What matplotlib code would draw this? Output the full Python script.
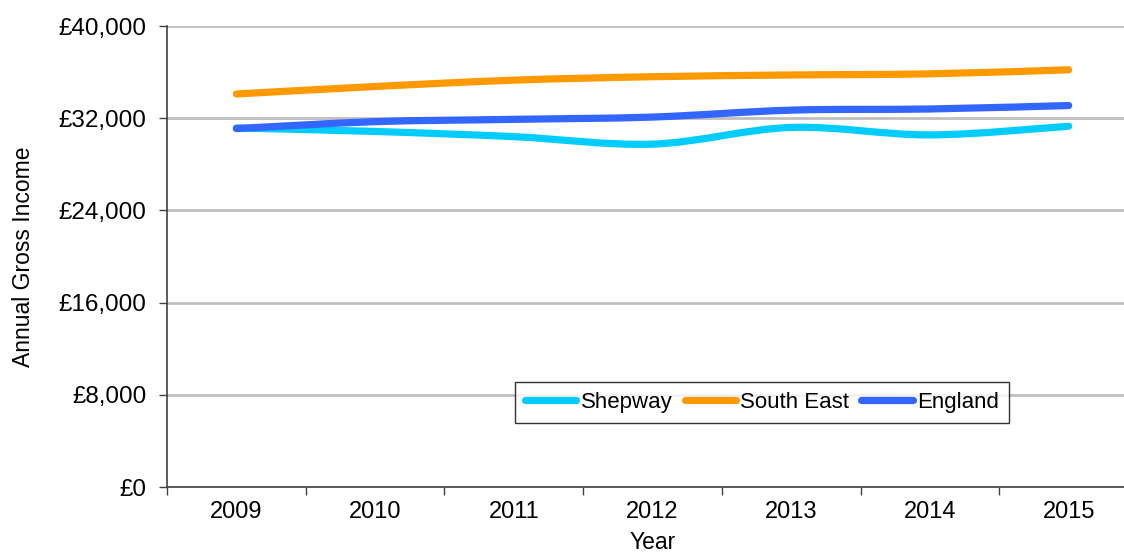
import numpy as np
import matplotlib.pyplot as plt
from matplotlib.path import Path
from matplotlib.patches import PathPatch
from matplotlib.lines import Line2D
from matplotlib.ticker import FixedLocator, FuncFormatter

plt.rcParams['font.family'] = ['Liberation Sans', 'DejaVu Sans']

years = [2009, 2010, 2011, 2012, 2013, 2014, 2015]
shepway = [31150, 30850, 30400, 29750, 31200, 30550, 31300]
south_east = [34100, 34750, 35300, 35600, 35750, 35850, 36200]
england = [31100, 31700, 31900, 32100, 32700, 32800, 33100]

series = [
    ('Shepway', shepway, '#00CCFF'),
    ('South East', south_east, '#FF9900'),
    ('England', england, '#3366FF'),
]


def smooth_path(xs, ys, k=1 / 6):
    """Excel-style smoothed line: Catmull-Rom control points as cubic Beziers."""
    pts = np.column_stack([xs, ys]).astype(float)
    n = len(pts)
    verts = [pts[0]]
    codes = [Path.MOVETO]
    for i in range(n - 1):
        p0 = pts[max(i - 1, 0)]
        p1 = pts[i]
        p2 = pts[i + 1]
        p3 = pts[min(i + 2, n - 1)]
        c1 = p1 + (p2 - p0) * k
        c2 = p2 - (p3 - p1) * k
        verts += [c1, c2, p2]
        codes += [Path.CURVE4] * 3
    return Path(verts, codes)


fig = plt.figure(figsize=(11.24, 5.54), dpi=100)
ax = fig.add_axes([167 / 1124, 1 - 487 / 554, 971 / 1124, 461 / 554])

for label, vals, color in series:
    patch = PathPatch(smooth_path(years, vals), fill=False, edgecolor=color,
                      linewidth=5.2, capstyle='round', joinstyle='round', zorder=3)
    ax.add_patch(patch)

ax.set_xlim(2008.5, 2015.5)
ax.set_ylim(0, 40000)

ax.yaxis.set_major_locator(FixedLocator(np.arange(0, 40001, 8000)))
ax.yaxis.set_major_formatter(FuncFormatter(lambda v, p: f'£{v:,.0f}'))
ax.grid(axis='y', color='#BFBFBF', linewidth=2)
ax.set_axisbelow(True)

ax.xaxis.set_major_locator(FixedLocator(np.arange(2008.5, 2015.6, 1)))
ax.xaxis.set_major_formatter(FuncFormatter(lambda v, p: ''))
ax.xaxis.set_minor_locator(FixedLocator(years))
ax.xaxis.set_minor_formatter(FuncFormatter(lambda v, p: f'{int(round(v))}'))
ax.tick_params(axis='x', which='minor', length=0, labelsize=17, pad=10)
ax.tick_params(axis='x', which='major', length=6, width=1, color='#404040')
ax.tick_params(axis='y', length=6, width=1, color='#404040', labelsize=17.5, pad=9)

for side in ['top', 'right']:
    ax.spines[side].set_visible(False)
for side in ['left', 'bottom']:
    ax.spines[side].set_color('#404040')
    ax.spines[side].set_linewidth(1.2)

ax.set_ylabel('Annual Gross Income', fontsize=16.5, labelpad=17)
ax.set_xlabel('Year', fontsize=16.5, labelpad=6)

handles = [Line2D([0], [0], color=c, linewidth=5.2, solid_capstyle='round')
           for _, _, c in series]
leg = fig.legend(handles, [s[0] for s in series], ncol=3, fontsize=16,
                 loc='center', bbox_to_anchor=(762 / 1124, 1 - 402.5 / 554),
                 frameon=True, fancybox=False, edgecolor='black',
                 handlelength=2.3, handletextpad=0.2, columnspacing=0.55,
                 borderpad=0.45, borderaxespad=0)
leg.get_frame().set_linewidth(1.0)

fig.savefig('out.png', dpi=100)
